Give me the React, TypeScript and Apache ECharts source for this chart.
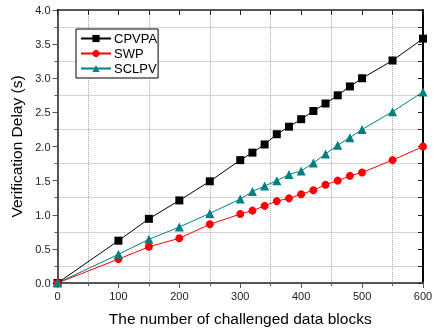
import React, { useEffect, useRef } from "react";
import * as echarts from "echarts";

const blocks = [0, 100, 150, 200, 250, 300, 320, 340, 360, 380, 400, 420, 440, 460, 480, 500, 550, 600];
const cpvpa = [0, 0.62, 0.94, 1.21, 1.49, 1.8, 1.91, 2.03, 2.18, 2.29, 2.4, 2.52, 2.63, 2.75, 2.88, 3.0, 3.26, 3.58];
const swp = [0, 0.35, 0.53, 0.655, 0.86, 1.01, 1.06, 1.13, 1.2, 1.24, 1.3, 1.36, 1.44, 1.5, 1.57, 1.62, 1.8, 2.0];
const sclpv = [0, 0.42, 0.64, 0.82, 1.02, 1.23, 1.34, 1.42, 1.5, 1.59, 1.64, 1.76, 1.89, 2.02, 2.13, 2.25, 2.51, 2.8];
const seriesNames = ["CPVPA", "SWP", "SCLPV"];

const FONT = "Liberation Sans, Arial, sans-serif";

export default function App() {
  const ref = useRef<HTMLDivElement>(null);
  useEffect(() => {
    if (!ref.current) return;
    const chart = echarts.init(ref.current, null, { renderer: "svg" });
    const pair = (ys: number[]) => blocks.map((x, i) => [x, ys[i]]);
    const mk = (name: string, ys: number[], color: string, symbol: string, size: number) => ({
      name,
      type: "line",
      data: pair(ys),
      symbol,
      symbolSize: size,
      showSymbol: true,
      lineStyle: { color, width: 1 },
      itemStyle: { color },
      z: 5,
    });
    const grid = { color: "#aaaaaa", type: [1, 1], width: 1 };
    chart.setOption({
      animation: false,
      textStyle: { fontFamily: FONT },
      grid: { left: 57.5, right: 13, top: 10, bottom: 49 },
      legend: {
        data: seriesNames,
        orient: "vertical",
        left: 76,
        top: 29,
        itemWidth: 30,
        itemHeight: 9,
        itemGap: 2,
        padding: [3, 1, 3, 4],
        borderColor: "#000",
        borderWidth: 1,
        backgroundColor: "#fff",
        textStyle: { fontSize: 13, color: "#000", fontFamily: FONT, padding: [0, 0, 0, -2] },
      },
      xAxis: [
        {
          type: "value",
          min: 0,
          max: 600,
          interval: 100,
          position: "bottom",
          axisLine: { show: true, onZero: false, lineStyle: { color: "#555", width: 2 } },
          axisTick: { show: true, inside: false, length: 5, lineStyle: { color: "#555", width: 1 } },
          minorTick: { show: true, splitNumber: 2, length: 3, lineStyle: { color: "#555", width: 1 } },
          splitLine: { show: false },
          minorSplitLine: { show: true, lineStyle: grid },
          axisLabel: { fontSize: 11, color: "#222", margin: 7, fontFamily: FONT },
          name: "The number of challenged data blocks",
          nameLocation: "middle",
          nameGap: 27,
          nameTextStyle: { fontSize: 15.5, color: "#000", fontFamily: FONT },
        },
        {
          type: "value",
          min: 0,
          max: 600,
          interval: 100,
          position: "top",
          axisLine: { show: true, onZero: false, lineStyle: { color: "#222", width: 1.5 } },
          axisTick: { show: true, inside: true, length: 5, lineStyle: { color: "#222", width: 1 } },
          minorTick: { show: true, splitNumber: 2, length: 5, lineStyle: { color: "#222", width: 1 } },
          splitLine: { show: false },
          axisLabel: { show: false },
        },
      ],
      yAxis: [
        {
          type: "value",
          min: 0,
          max: 4,
          interval: 0.5,
          position: "left",
          axisLine: { show: true, onZero: false, lineStyle: { color: "#555", width: 2 } },
          axisTick: { show: true, inside: false, length: 5, lineStyle: { color: "#555", width: 1 } },
          minorTick: { show: true, splitNumber: 2, length: 3, lineStyle: { color: "#555", width: 1 } },
          splitLine: { show: false },
          minorSplitLine: { show: true, lineStyle: grid },
          axisLabel: { fontSize: 11, color: "#222", margin: 7, fontFamily: FONT, formatter: (v: number) => v.toFixed(1) },
          name: "Verification Delay (s)",
          nameLocation: "middle",
          nameGap: 32,
          nameTextStyle: { fontSize: 15.5, color: "#000", fontFamily: FONT },
        },
        {
          type: "value",
          min: 0,
          max: 4,
          interval: 0.5,
          position: "right",
          axisLine: { show: true, onZero: false, lineStyle: { color: "#000", width: 2 } },
          axisTick: { show: true, inside: true, length: 5, lineStyle: { color: "#222", width: 1 } },
          minorTick: { show: true, splitNumber: 2, length: 5, lineStyle: { color: "#222", width: 1 } },
          splitLine: { show: false },
          axisLabel: { show: false },
        },
      ],
      series: [
        mk(seriesNames[0], cpvpa, "#000000", "rect", 8),
        mk(seriesNames[1], swp, "#ff0000", "circle", 8),
        mk(seriesNames[2], sclpv, "#008080", "triangle", 9),
      ],
    });
    return () => chart.dispose();
  }, []);
  return <div ref={ref} style={{ position: "fixed", left: 0, top: 0, width: 436, height: 332 }} />;
}
